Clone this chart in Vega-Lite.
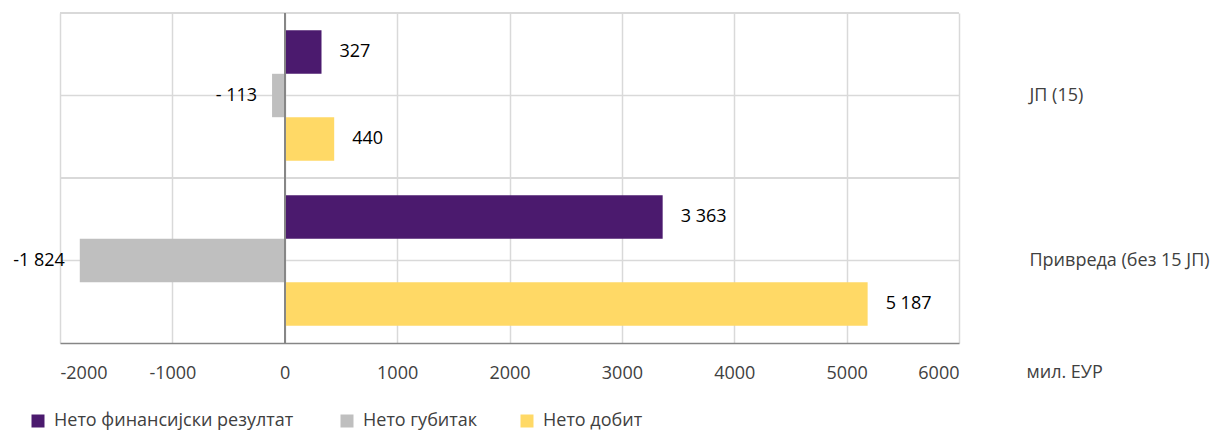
{
  "$schema": "https://vega.github.io/schema/vega-lite/v6.json",
  "width": 899,
  "height": 330,
  "autosize": "none",
  "padding": {"left": 60, "top": 13, "right": 267, "bottom": 87},
  "config": {"view": {"stroke": null}, "font": "Open Sans"},
  "data": {
    "values": [
      {"cat": "ЈП (15)", "series": "Нето финансијски  резултат", "value": 327, "label": "327"},
      {"cat": "ЈП (15)", "series": "Нето губитак", "value": -113, "label": "- 113"},
      {"cat": "ЈП (15)", "series": "Нето добит", "value": 440, "label": "440"},
      {"cat": "Привреда (без 15 ЈП)", "series": "Нето финансијски  резултат", "value": 3363, "label": "3 363"},
      {"cat": "Привреда (без 15 ЈП)", "series": "Нето губитак", "value": -1824, "label": "-1 824"},
      {"cat": "Привреда (без 15 ЈП)", "series": "Нето добит", "value": 5187, "label": "5 187"}
    ]
  },
  "encoding": {
    "y": {
      "field": "cat", "type": "nominal",
      "sort": ["ЈП (15)", "Привреда (без 15 ЈП)"],
      "scale": {"paddingInner": 0, "paddingOuter": 0}
    },
    "yOffset": {
      "field": "series", "type": "nominal",
      "sort": ["Нето финансијски  резултат", "Нето губитак", "Нето добит"],
      "scale": {"paddingInner": 0, "paddingOuter": 0.4}
    },
    "x": {
      "field": "value", "type": "quantitative",
      "scale": {"domain": [-2000, 6000], "nice": false, "zero": false}
    }
  },
  "layer": [
    {
      "mark": {"type": "rule", "color": "#d9d9d9", "strokeWidth": 1.5},
      "encoding": {
        "y": {
          "field": "cat", "type": "nominal", "bandPosition": 0,
          "sort": ["ЈП (15)", "Привреда (без 15 ЈП)"]
        },
        "x": null,
        "yOffset": null
      }
    },
    {
      "mark": {"type": "bar"},
      "encoding": {
        "y": {
          "field": "cat", "type": "nominal",
          "sort": ["ЈП (15)", "Привреда (без 15 ЈП)"],
          "scale": {"paddingInner": 0, "paddingOuter": 0},
          "axis": {
            "orient": "right", "title": null, "grid": true, "gridColor": "#d9d9d9", "gridWidth": 1.5,
            "ticks": false, "domain": false, "labelAlign": "left", "labelPadding": 70, "labelLimit": 0,
            "labelFontSize": 18, "labelColor": "#404040", "labelFont": "Open Sans"
          }
        },
        "x": {
          "field": "value", "type": "quantitative",
          "scale": {"domain": [-2000, 6000], "nice": false, "zero": false},
          "axis": {
            "values": [-2000, -1000, 0, 1000, 2000, 3000, 4000, 5000, 6000],
            "labelExpr": "'' + datum.value",
            "grid": true, "gridColor": "#d9d9d9", "gridWidth": 1.5,
            "ticks": false, "domainColor": "#868686", "domainWidth": 1.5,
            "labelFontSize": 18, "labelColor": "#404040", "labelPadding": 21, "labelFont": "Open Sans",
            "title": "мил. ЕУР", "titleFontSize": 18, "titleFontWeight": "normal", "titleColor": "#404040",
            "titleFont": "Open Sans", "titleX": 966, "titleY": 29, "titleAlign": "left", "titleBaseline": "middle", "titleAnchor": null
          }
        },
        "color": {
          "field": "series", "type": "nominal",
          "sort": ["Нето финансијски  резултат", "Нето губитак", "Нето добит"],
          "scale": {
            "domain": ["Нето финансијски  резултат", "Нето губитак", "Нето добит"],
            "range": ["#4b1a6e", "#bfbfbf", "#ffd966"]
          },
          "legend": {
            "title": null, "orient": "none", "direction": "horizontal",
            "legendX": -31, "legendY": 399, "padding": 0,
            "symbolType": "square", "symbolSize": 169, "symbolStrokeWidth": 0,
            "labelFontSize": 18, "labelColor": "#404040", "labelFont": "Open Sans", "labelLimit": 0,
            "labelOffset": 7, "columnPadding": 40
          }
        }
      }
    },
    {
      "transform": [{"filter": "datum.value >= 0"}],
      "mark": {"type": "text", "align": "left", "baseline": "middle", "dx": 18, "fontSize": 18, "color": "#000000"},
      "encoding": {"text": {"field": "label"}}
    },
    {
      "transform": [{"filter": "datum.value < 0"}],
      "mark": {"type": "text", "align": "right", "baseline": "middle", "dx": -15, "fontSize": 18, "color": "#000000"},
      "encoding": {"text": {"field": "label"}}
    },
    {
      "mark": {"type": "rule", "color": "#868686", "strokeWidth": 1.5},
      "encoding": {
        "x": {"datum": 0, "type": "quantitative"},
        "y": null,
        "yOffset": null
      }
    }
  ]
}
